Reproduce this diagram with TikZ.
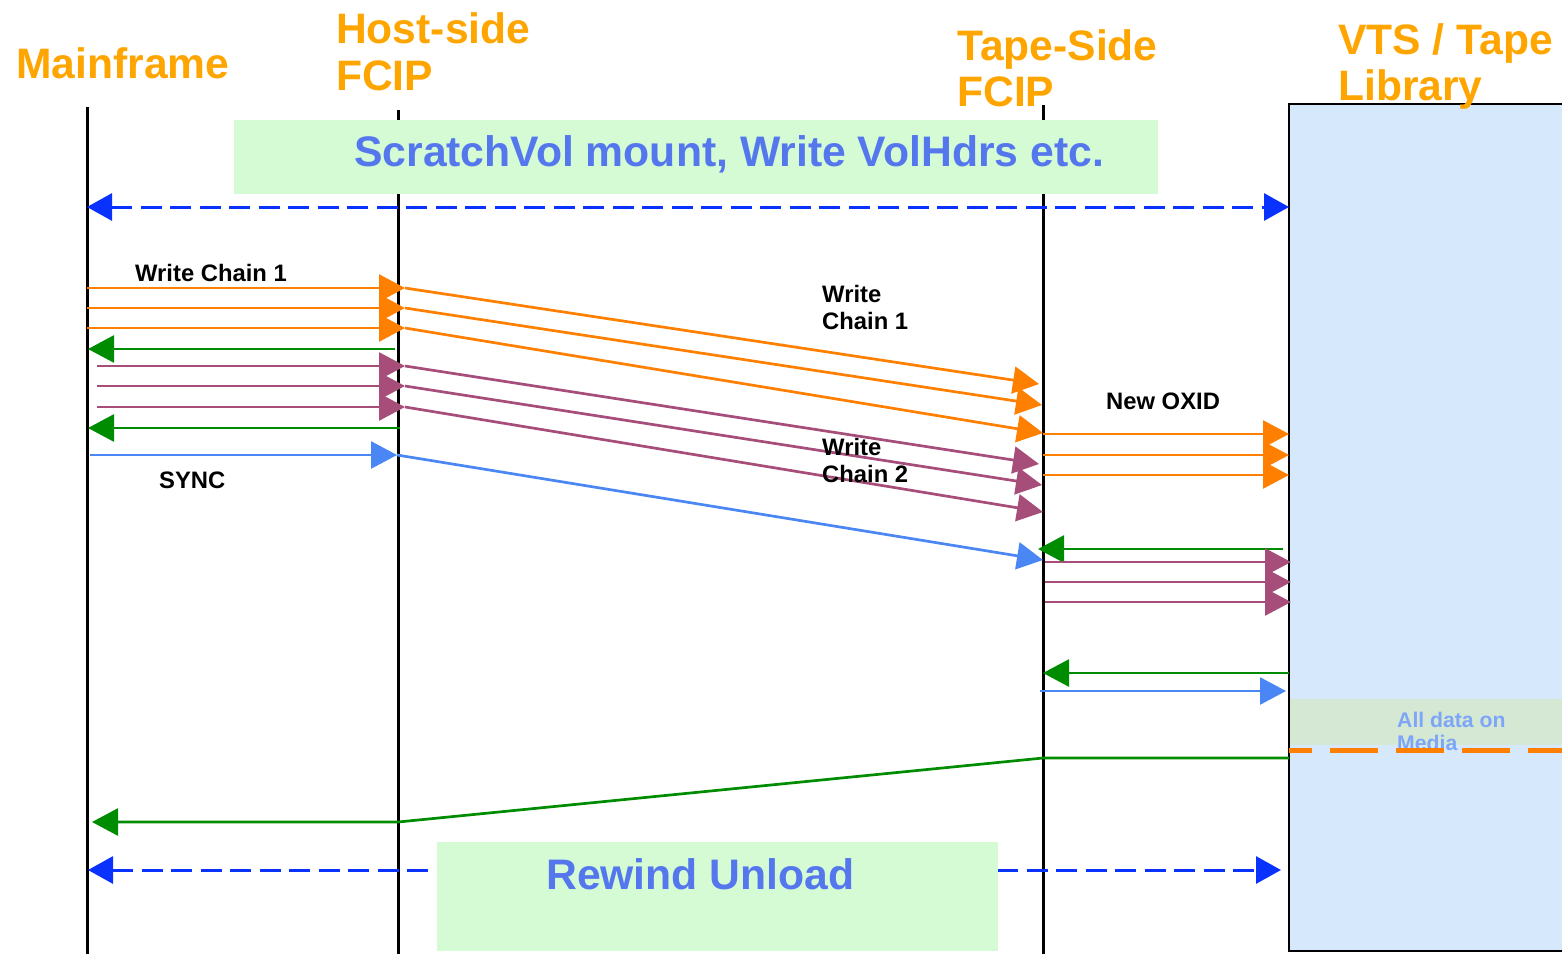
\documentclass[tikz,border=0pt]{standalone}
\usepackage{fontspec}
\setmainfont{Liberation Sans}
\usetikzlibrary{arrows.meta}
\definecolor{ttl}{HTML}{FFA500}
\definecolor{org}{HTML}{FF8000}
\definecolor{pur}{HTML}{A64D79}
\definecolor{grn}{HTML}{008C00}
\definecolor{sblu}{HTML}{4A86F4}
\definecolor{dblu}{HTML}{0A32FF}
\definecolor{boxtxt}{HTML}{5577EE}
\definecolor{gbox}{HTML}{D5FBD5}
\definecolor{vts}{HTML}{D5E8FC}
\definecolor{band}{HTML}{D5E8D4}
\definecolor{media}{HTML}{7EA6F8}
\begin{document}
\begin{tikzpicture}[x=1pt,y=-1pt,
 life/.style={line width=3pt,black},
 tipend/.style={-{Triangle[length=26pt,width=27pt]}},
 msg/.style={line width=2.7pt,tipend},
 om/.style={msg,org}, pm/.style={msg,pur}, gm/.style={msg,grn}, bm/.style={msg,sblu},
 dm/.style={line width=3pt,dblu,dash pattern=on 21pt off 8.5pt,{Triangle[length=25pt,width=27pt]}-{Triangle[length=25pt,width=27pt]}},
 ttlline/.style={anchor=base west,inner sep=0pt,text=ttl,font=\fontsize{42.6}{47}\selectfont\bfseries},
 lbl/.style={anchor=base west,inner sep=0pt,font=\fontsize{23.8}{27}\selectfont\bfseries},
 bigtxt/.style={anchor=base west,inner sep=0pt,text=boxtxt,font=\fontsize{42.7}{47}\selectfont\bfseries},
 medtxt/.style={anchor=base west,inner sep=0pt,text=media,font=\fontsize{21.2}{24}\selectfont\bfseries}
]
\useasboundingbox (0,0) rectangle (1562,953);

% VTS / tape library box and band
\fill[vts] (1289,104) rectangle (1566,951);
\fill[band] (1290,699) rectangle (1566,745);
\draw[line width=2.5pt] (1566,104) -- (1289,104) -- (1289,951) -- (1566,951);

% lifelines
\coordinate (mfT) at (87,107);   \coordinate (mfB) at (87,955);
\coordinate (hsT) at (398,110);  \coordinate (hsB) at (398,955);
\coordinate (tsT) at (1043,105); \coordinate (tsB) at (1043,955);
\draw[life] (mfT) -- (mfB);
\draw[life] (hsT) -- (hsB);
\draw[life] (tsT) -- (tsB);

% top box
\fill[gbox] (234,120) rectangle (1158,194);
\node[bigtxt] (scratch) at (354,166) {ScratchVol mount, Write VolHdrs etc.};
\coordinate (d1a) at (87,207); \coordinate (d1b) at (1289,207);
\draw[dm] (d1a) -- (d1b);

% write chain 1: mainframe -> host side
\coordinate (o1a) at (87,288);  \coordinate (o1b) at (405,288);
\coordinate (o2a) at (87,308);  \coordinate (o2b) at (405,308);
\coordinate (o3a) at (87,328);  \coordinate (o3b) at (405,328);
\draw[om] (o1a) -- (o1b);
\draw[om] (o2a) -- (o2b);
\draw[om] (o3a) -- (o3b);
% host side -> tape side
\coordinate (o1c) at (1039,384); \coordinate (o2c) at (1042,405); \coordinate (o3c) at (1043,433);
\draw[om] (o1b) -- (o1c);
\draw[om] (o2b) -- (o2c);
\draw[om] (o3b) -- (o3c);

% green acks
\coordinate (g1a) at (395,349); \coordinate (g1b) at (88,349);
\draw[gm] (g1a) -- (g1b);

% write chain 2
\coordinate (p1a) at (97,366);  \coordinate (p1b) at (405,366);
\coordinate (p2a) at (97,386);  \coordinate (p2b) at (405,386);
\coordinate (p3a) at (97,407);  \coordinate (p3b) at (405,407);
\draw[pm] (p1a) -- (p1b);
\draw[pm] (p2a) -- (p2b);
\draw[pm] (p3a) -- (p3b);
\coordinate (p1c) at (1039,464); \coordinate (p2c) at (1042,485); \coordinate (p3c) at (1043,512);
\draw[pm] (p1b) -- (p1c);
\draw[pm] (p2b) -- (p2c);
\draw[pm] (p3b) -- (p3c);

\coordinate (g2a) at (400,428); \coordinate (g2b) at (88,428);
\draw[gm] (g2a) -- (g2b);

% SYNC
\coordinate (s1a) at (90,455); \coordinate (s1b) at (397,455);
\coordinate (s1c) at (1043,560);
\draw[bm] (s1a) -- (s1b);
\draw[bm] (s1b) -- (s1c);

% tape side -> VTS, new OXID
\coordinate (n1a) at (1043,434); \coordinate (n1b) at (1289,434);
\coordinate (n2a) at (1043,455); \coordinate (n2b) at (1289,455);
\coordinate (n3a) at (1043,475); \coordinate (n3b) at (1289,475);
\draw[om] (n1a) -- (n1b);
\draw[om] (n2a) -- (n2b);
\draw[om] (n3a) -- (n3b);

\coordinate (g3a) at (1283,549); \coordinate (g3b) at (1038,549);
\draw[gm] (g3a) -- (g3b);

\coordinate (q1a) at (1045,562); \coordinate (q1b) at (1291,562);
\coordinate (q2a) at (1045,582); \coordinate (q2b) at (1291,582);
\coordinate (q3a) at (1045,602); \coordinate (q3b) at (1291,602);
\draw[pm] (q1a) -- (q1b);
\draw[pm] (q2a) -- (q2b);
\draw[pm] (q3a) -- (q3b);

\coordinate (g4a) at (1289,673); \coordinate (g4b) at (1043,673);
\draw[gm] (g4a) -- (g4b);
\coordinate (s2a) at (1040,691); \coordinate (s2b) at (1286,691);
\draw[bm] (s2a) -- (s2b);

% all data on media
\node[medtxt] (alld1) at (1397,727) {All data on};
\node[medtxt] (alld2) at (1397,750) {Media};
\draw[org,line width=5pt,dash pattern=on 48pt off 18pt,dash phase=25pt] (1289,750) -- (1566,750);

% final status back to mainframe
\coordinate (g5a) at (1289,758); \coordinate (g5b) at (1043,758);
\coordinate (g5c) at (398,822);  \coordinate (g5d) at (92,822);
\draw[gm] (g5a) -- (g5b) -- (g5c) -- (g5d);

% rewind unload
\coordinate (d2a) at (88,870); \coordinate (d2b) at (1281,870);
\draw[dm] (d2a) -- (d2b);
\fill[gbox] (437,842) rectangle (998,951);
\node[bigtxt] (rewind) at (546,889) {Rewind Unload};

% titles
\node[ttlline] (tmf) at (16,78) {Mainframe};
\node[ttlline] (ths1) at (336,43) {Host-side};
\node[ttlline] (ths2) at (336,90) {FCIP};
\node[ttlline] (tts1) at (957,60) {Tape-Side};
\node[ttlline] (tts2) at (957,106) {FCIP};
\node[ttlline] (tvt1) at (1338,54) {VTS / Tape};
\node[ttlline] (tvt2) at (1338,100) {Library};

% labels
\node[lbl] (wc1) at (135,281) {Write Chain 1};
\node[lbl] (wc1a) at (822,302) {Write};
\node[lbl] (wc1b) at (822,329) {Chain 1};
\node[lbl] (wc2a) at (822,455) {Write};
\node[lbl] (wc2b) at (822,482) {Chain 2};
\node[lbl] (oxid) at (1106,409) {New OXID};
\node[lbl] (sync) at (159,488) {SYNC};
\end{tikzpicture}
\end{document}
